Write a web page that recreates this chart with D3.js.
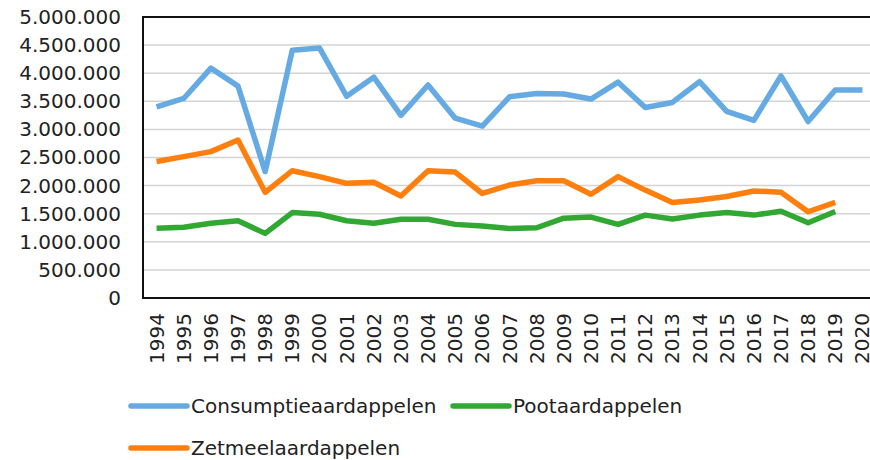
<!DOCTYPE html>
<html>
<head>
<meta charset="utf-8">
<script src="https://cdn.jsdelivr.net/npm/d3@7"></script>
<style>
  body { margin: 0; background: #fff; }
  svg { display: block; }
  text { font-family: "DejaVu Sans", Verdana, sans-serif; fill: #222; }
</style>
</head>
<body>
<div id="chart"></div>
<script>
const years = d3.range(1994, 2021).map(String);
const yTicks = [0, 500000, 1000000, 1500000, 2000000, 2500000, 3000000, 3500000, 4000000, 4500000, 5000000];

const consumptie = [3400000, 3550000, 4090000, 3770000, 2250000, 4410000, 4450000, 3590000, 3930000, 3250000,
  3790000, 3200000, 3060000, 3580000, 3640000, 3630000, 3540000, 3840000, 3390000, 3480000,
  3850000, 3320000, 3160000, 3950000, 3140000, 3700000, 3700000];
const poot = [1240000, 1260000, 1330000, 1375000, 1150000, 1520000, 1490000, 1375000, 1330000, 1400000,
  1400000, 1310000, 1280000, 1235000, 1250000, 1420000, 1440000, 1310000, 1475000, 1405000,
  1475000, 1520000, 1475000, 1545000, 1340000, 1540000];
const zetmeel = [2430000, 2515000, 2605000, 2810000, 1880000, 2265000, 2160000, 2040000, 2060000, 1815000,
  2265000, 2240000, 1860000, 2010000, 2085000, 2085000, 1845000, 2160000, 1920000, 1700000,
  1745000, 1805000, 1905000, 1880000, 1535000, 1700000];

const series = [
  { name: "Consumptieaardappelen", values: consumptie, color: "#65aae2" },
  { name: "Pootaardappelen", values: poot, color: "#31a832" },
  { name: "Zetmeelaardappelen", values: zetmeel, color: "#ff7f0e" }
];

const width = 870, height = 460;
const plotLeft = 143, plotTop = 17, plotRight = 876, plotBottom = 298;

const svg = d3.select("#chart").append("svg")
  .attr("width", width)
  .attr("height", height);

const x = d3.scaleBand()
  .domain(years)
  .range([plotLeft, plotRight]);

const y = d3.scaleLinear()
  .domain([0, 5000000])
  .range([plotBottom, plotTop]);

const fmt = d => d3.format(",")(d).replace(/,/g, ".");

// gridlines
svg.append("g")
  .selectAll("line")
  .data(yTicks.filter(d => d > 0 && d < 5000000))
  .enter().append("line")
    .attr("x1", plotLeft)
    .attr("x2", plotRight)
    .attr("y1", d => y(d))
    .attr("y2", d => y(d))
    .attr("stroke", "#d4d4d4")
    .attr("stroke-width", 1.5);

// y axis labels
const yAxis = svg.append("g")
  .attr("transform", "translate(" + plotLeft + ",0)")
  .call(d3.axisLeft(y).tickValues(yTicks).tickFormat(fmt).tickSize(0).tickPadding(22));
yAxis.select(".domain").remove();
yAxis.selectAll("text")
  .style("font-family", "\"DejaVu Sans\", Verdana, sans-serif")
  .style("font-size", "20px")
  .attr("fill", "#222");

// x axis labels
const xAxis = svg.append("g")
  .attr("transform", "translate(0," + plotBottom + ")")
  .call(d3.axisBottom(x).tickSize(0));
xAxis.select(".domain").remove();
xAxis.selectAll("text")
  .style("font-family", "\"DejaVu Sans\", Verdana, sans-serif")
  .style("font-size", "20px")
  .attr("fill", "#222")
  .attr("transform", "rotate(-90)")
  .attr("text-anchor", "end")
  .attr("x", -15)
  .attr("y", 0)
  .attr("dy", "0.35em");

// lines
const line = d3.line()
  .x((d, i) => x(years[i]) + x.bandwidth() / 2)
  .y(d => y(d));

svg.append("g")
  .selectAll("path")
  .data(series)
  .enter().append("path")
    .attr("d", d => line(d.values))
    .attr("fill", "none")
    .attr("stroke", d => d.color)
    .attr("stroke-width", 5.5)
    .attr("stroke-linejoin", "round");

// plot frame
svg.append("rect")
  .attr("x", plotLeft)
  .attr("y", plotTop)
  .attr("width", plotRight - plotLeft)
  .attr("height", plotBottom - plotTop)
  .attr("fill", "none")
  .attr("stroke", "#111")
  .attr("stroke-width", 2);

// legend
const legendPos = [[131, 406], [453, 406], [131, 448]];
const legend = svg.append("g")
  .selectAll("g")
  .data(series)
  .enter().append("g")
    .attr("transform", (d, i) => "translate(" + legendPos[i][0] + "," + legendPos[i][1] + ")");

legend.append("line")
  .attr("x1", 0)
  .attr("x2", 56)
  .attr("stroke", d => d.color)
  .attr("stroke-width", 5.5)
  .attr("stroke-linecap", "round");

legend.append("text")
  .attr("x", 60)
  .attr("dy", "0.35em")
  .style("font-size", "20px")
  .text(d => d.name);
</script>
</body>
</html>
